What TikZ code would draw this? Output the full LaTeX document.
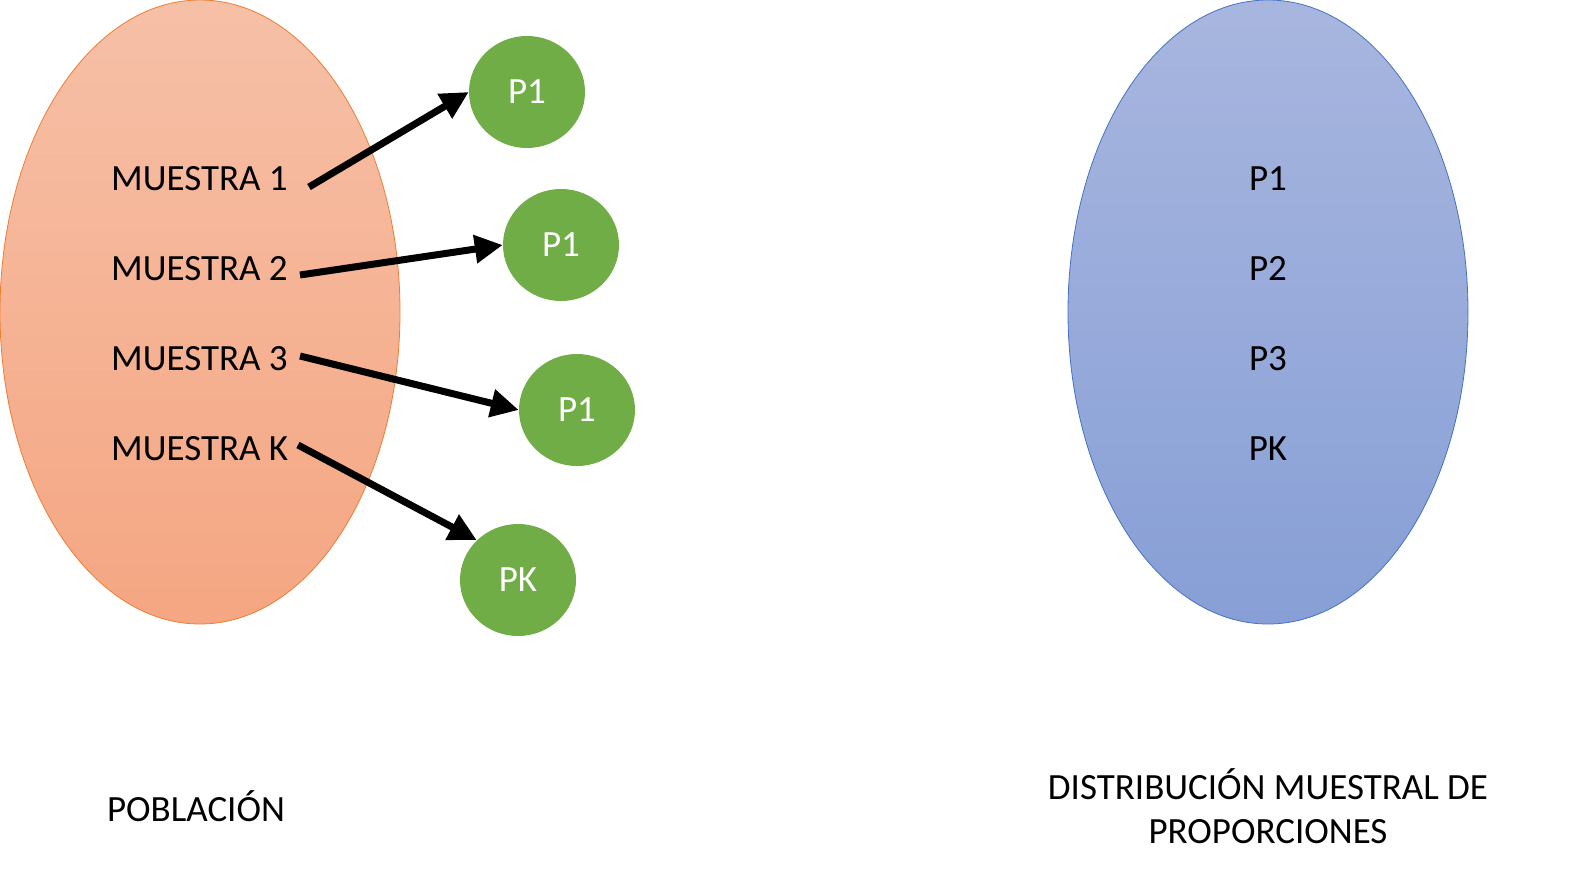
\documentclass[tikz,border=0pt]{standalone}
\usepackage{fontspec}
\setmainfont{Carlito}
\usetikzlibrary{arrows.meta,shapes.geometric}
\definecolor{popTop}{RGB}{246,192,167}
\definecolor{popBot}{RGB}{245,166,130}
\definecolor{popLine}{RGB}{237,125,49}
\definecolor{disTop}{RGB}{168,182,223}
\definecolor{disBot}{RGB}{135,159,214}
\definecolor{disLine}{RGB}{68,114,196}
\definecolor{grn}{RGB}{112,173,71}
\tikzset{
  bigell/.style={ellipse, minimum width=400pt, minimum height=624pt, inner sep=0pt, line width=0.8pt},
  pcirc/.style={ellipse, fill=grn, minimum width=116pt, minimum height=112pt, inner sep=0pt, text=white, font=\fontsize{37}{44}\selectfont},
  lbl/.style={font=\fontsize{37}{44}\selectfont, inner sep=0pt, anchor=base},
  arr/.style={line width=7pt, -{Triangle[length=28pt,width=27pt]}}
}
\begin{document}
\begin{tikzpicture}[x=1pt,y=-1pt]
\useasboundingbox (0,0) rectangle (1584,876);
\node[bigell, draw=popLine, top color=popTop, bottom color=popBot] (pop) at (200,312) {};
\node[bigell, draw=disLine, top color=disTop, bottom color=disBot] (dis) at (1268,312) {};
\node[lbl, anchor=base west] (m1) at (111,190) {MUESTRA 1};
\node[lbl, anchor=base west] (m2) at (111,280) {MUESTRA 2};
\node[lbl, anchor=base west] (m3) at (111,370) {MUESTRA 3};
\node[lbl, anchor=base west] (mk) at (111,460) {MUESTRA K};
\node[pcirc] (c1) at (527,92) {P1};
\node[pcirc] (c2) at (561,245) {P1};
\node[pcirc] (c3) at (577,410) {P1};
\node[pcirc] (c4) at (518,580) {PK};
\coordinate (s1) at (309,187);
\coordinate (s2) at (300,275);
\coordinate (s3) at (300,356);
\coordinate (s4) at (298,445);
\draw[arr] (s1) -- (c1.west);
\draw[arr] (s2) -- (c2.west);
\draw[arr] (s3) -- (c3.west);
\draw[arr] (s4) -- (c4.north west);
\node[lbl] (q1) at (1268,190) {P1};
\node[lbl] (q2) at (1268,280) {P2};
\node[lbl] (q3) at (1268,370) {P3};
\node[lbl] (qk) at (1268,460) {PK};
\node[lbl] (poblacion) at (196,821) {POBLACIÓN};
\node[lbl] (dist1) at (1268,799) {DISTRIBUCIÓN MUESTRAL DE};
\node[lbl] (dist2) at (1268,843) {PROPORCIONES};
\end{tikzpicture}
\end{document}
